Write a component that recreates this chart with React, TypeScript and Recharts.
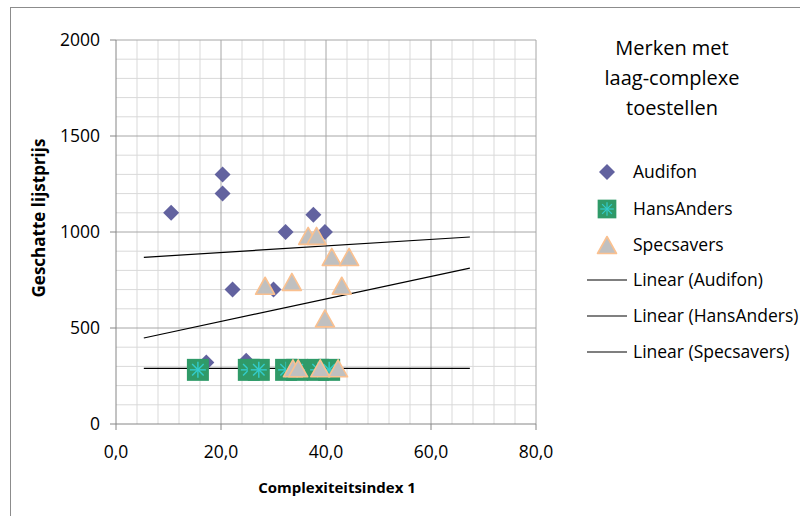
import {
  ReferenceLine,
  Scatter,
  ScatterChart,
  XAxis,
  YAxis,
} from "recharts";

// Audifon
const audifonX = [10.5, 20.3, 20.3, 22.2, 30.0, 32.3, 37.6, 39.8, 17.2, 24.8];
const audifonY = [1100, 1300, 1200, 700, 700, 1000, 1090, 1000, 320, 330];

// HansAnders
const hansX = [15.6, 25.3, 27.2, 32.4, 34.5, 38.5, 40.6];
const hansY = [282, 282, 282, 282, 282, 282, 282];

// Specsavers
const specX = [36.6, 38.2, 41.1, 44.4, 28.4, 33.5, 43.0, 39.8, 33.7, 34.7, 38.9, 42.3];
const specY = [980, 980, 870, 870, 720, 740, 720, 550, 290, 290, 290, 290];

// trend line end points
const trendX = [5.3, 67.4];
const audifonTrendY = [868, 974];
const hansTrendY = [290, 290];
const specTrendY = [448, 812];

const xTicks = [0, 20, 40, 60, 80];
const yTicks = [0, 500, 1000, 1500, 2000];
const majorX = [20, 40, 60, 80];
const minorX = [4, 8, 12, 16, 24, 28, 32, 36, 44, 48, 52, 56, 64, 68, 72, 76];
const majorY = [500, 1000, 1500, 2000];
const minorY = [100, 200, 300, 400, 600, 700, 800, 900, 1100, 1200, 1300, 1400, 1600, 1700, 1800, 1900];

const FONT = "'Open Sans', sans-serif";
const DIAMOND = "#62629f";
const GREEN = "#2f9a68";
const CYAN = "#33cccc";
const TRI_FILL = "#c0c0c0";
const TRI_STROKE = "#fac08f";

const toPoints = (xs: number[], ys: number[]) => xs.map((x, i) => ({x, y: ys[i]}));

function Diamond({cx, cy}: any) {
  const r = 8;
  return <polygon points={`${cx},${cy - r} ${cx + r},${cy} ${cx},${cy + r} ${cx - r},${cy}`} fill={DIAMOND} />;
}

function StarSquare({cx, cy}: any) {
  const h = 11;
  const r = 8;
  const d = r * 0.72;
  return (
    <g>
      <rect x={cx - h} y={cy - h} width={h * 2} height={h * 2} fill={GREEN} />
      <g stroke={CYAN} strokeWidth={1.4}>
        <line x1={cx} y1={cy - r} x2={cx} y2={cy + r} />
        <line x1={cx - r} y1={cy} x2={cx + r} y2={cy} />
        <line x1={cx - d} y1={cy - d} x2={cx + d} y2={cy + d} />
        <line x1={cx - d} y1={cy + d} x2={cx + d} y2={cy - d} />
      </g>
    </g>
  );
}

function Triangle({cx, cy}: any) {
  const w = 9.5;
  const h = 8.5;
  return (
    <polygon
      points={`${cx},${cy - h} ${cx + w},${cy + h} ${cx - w},${cy + h}`}
      fill={TRI_FILL}
      stroke={TRI_STROKE}
      strokeWidth={1.6}
      strokeLinejoin="round"
    />
  );
}

function YTitle({viewBox}: any) {
  const x = viewBox.x + 18;
  const y = viewBox.y + viewBox.height / 2 - 14;
  return (
    <text
      x={x}
      y={y}
      transform={`rotate(-90 ${x} ${y})`}
      textAnchor="middle"
      dominantBaseline="central"
      fontSize={17}
      fontWeight={700}
      fontFamily={FONT}
      fill="#000"
    >
      Geschatte lijstprijs
    </text>
  );
}

function XTitle({viewBox}: any) {
  const x = viewBox.x + viewBox.width / 2 + 11;
  return (
    <text
      x={x}
      y={487}
      textAnchor="middle"
      dominantBaseline="central"
      fontSize={15}
      fontWeight={700}
      fontFamily={FONT}
      fill="#000"
    >
      Complexiteitsindex 1
    </text>
  );
}

const legendRows = [
  {label: "Audifon", kind: "diamond", y: 172},
  {label: "HansAnders", kind: "square", y: 209},
  {label: "Specsavers", kind: "triangle", y: 245},
  {label: "Linear (Audifon)", kind: "line", color: "#000", w: 1.2, y: 280},
  {label: "Linear (HansAnders)", kind: "line", color: "#808080", w: 2.2, y: 316},
  {label: "Linear (Specsavers)", kind: "line", color: "#000", w: 1.2, y: 352},
];

function LegendBox() {
  return (
    <div style={{position: "absolute", left: 540, top: 0, width: 260, height: 400, fontFamily: FONT}}>
      <div
        style={{
          position: "absolute",
          left: 0,
          top: 33,
          width: 264,
          textAlign: "center",
          fontSize: 20,
          lineHeight: "30px",
          color: "#000",
        }}
      >
        Merken met
        <br />
        laag-complexe
        <br />
        toestellen
      </div>
      <svg width={260} height={400} style={{position: "absolute", left: 0, top: 0}}>
        {legendRows.map((r) => (
          <g key={r.label}>
            {r.kind === "diamond" && <Diamond cx={67} cy={r.y} />}
            {r.kind === "square" && (
              <g transform={`translate(67 ${r.y}) scale(0.85) translate(-67 ${-r.y})`}>
                <StarSquare cx={67} cy={r.y} />
              </g>
            )}
            {r.kind === "triangle" && <Triangle cx={67} cy={r.y} />}
            {r.kind === "line" && (
              <line x1={47} y1={r.y} x2={87} y2={r.y} stroke={r.color} strokeWidth={r.w} />
            )}
            <text x={93} y={r.y} dy="0.35em" fontSize={17.5} fontFamily={FONT} fill="#000">
              {r.label}
            </text>
          </g>
        ))}
      </svg>
    </div>
  );
}

export default function App() {
  return (
    <div style={{position: "absolute", left: 0, top: 0, width: 800, height: 516, overflow: "hidden", background: "#fff"}}>
      <div
        style={{
          position: "absolute",
          left: 10,
          top: 7,
          width: 800,
          height: 530,
          border: "1px solid #8c8c8c",
          boxSizing: "border-box",
        }}
      />
      <ScatterChart width={800} height={516} margin={{top: 40, right: 264, bottom: 12, left: 20}}>
        <XAxis
          type="number"
          dataKey="x"
          domain={[0, 80]}
          ticks={xTicks}
          interval={0}
          allowDataOverflow
          tickFormatter={(v: number) => v.toFixed(1).replace(".", ",")}
          tick={{fontSize: 17.5, fill: "#000", fontFamily: FONT}}
          tickMargin={16}
          height={80}
          stroke="#868686"
          label={(props: any) => <XTitle {...props} />}
        />
        <YAxis
          type="number"
          dataKey="y"
          domain={[0, 2000]}
          ticks={yTicks}
          interval={0}
          allowDataOverflow
          tick={{fontSize: 17.5, fill: "#000", fontFamily: FONT}}
          tickMargin={10}
          width={96}
          stroke="#868686"
          label={(props: any) => <YTitle {...props} />}
        />
        {minorX.map((v) => (
          <ReferenceLine key={`mx${v}`} x={v} stroke="#d9d9d9" strokeWidth={1} />
        ))}
        {minorY.map((v) => (
          <ReferenceLine key={`my${v}`} y={v} stroke="#d9d9d9" strokeWidth={1} />
        ))}
        {majorX.map((v) => (
          <ReferenceLine key={`Mx${v}`} x={v} stroke="#a6a6a6" strokeWidth={1} />
        ))}
        {majorY.map((v) => (
          <ReferenceLine key={`My${v}`} y={v} stroke="#a6a6a6" strokeWidth={1} />
        ))}
        <Scatter
          name="Audifon"
          data={toPoints(audifonX, audifonY)}
          shape={(p: any) => <Diamond {...p} />}
          isAnimationActive={false}
        />
        <Scatter
          name="HansAnders"
          data={toPoints(hansX, hansY)}
          shape={(p: any) => <StarSquare {...p} />}
          isAnimationActive={false}
        />
        <Scatter
          name="Specsavers"
          data={toPoints(specX, specY)}
          shape={(p: any) => <Triangle {...p} />}
          isAnimationActive={false}
        />
        <ReferenceLine segment={toPoints(trendX, audifonTrendY)} stroke="#000" strokeWidth={1.2} />
        <ReferenceLine segment={toPoints(trendX, specTrendY)} stroke="#000" strokeWidth={1.2} />
        <ReferenceLine segment={toPoints(trendX, hansTrendY)} stroke="#000" strokeWidth={1.2} />
      </ScatterChart>
      <LegendBox />
    </div>
  );
}
